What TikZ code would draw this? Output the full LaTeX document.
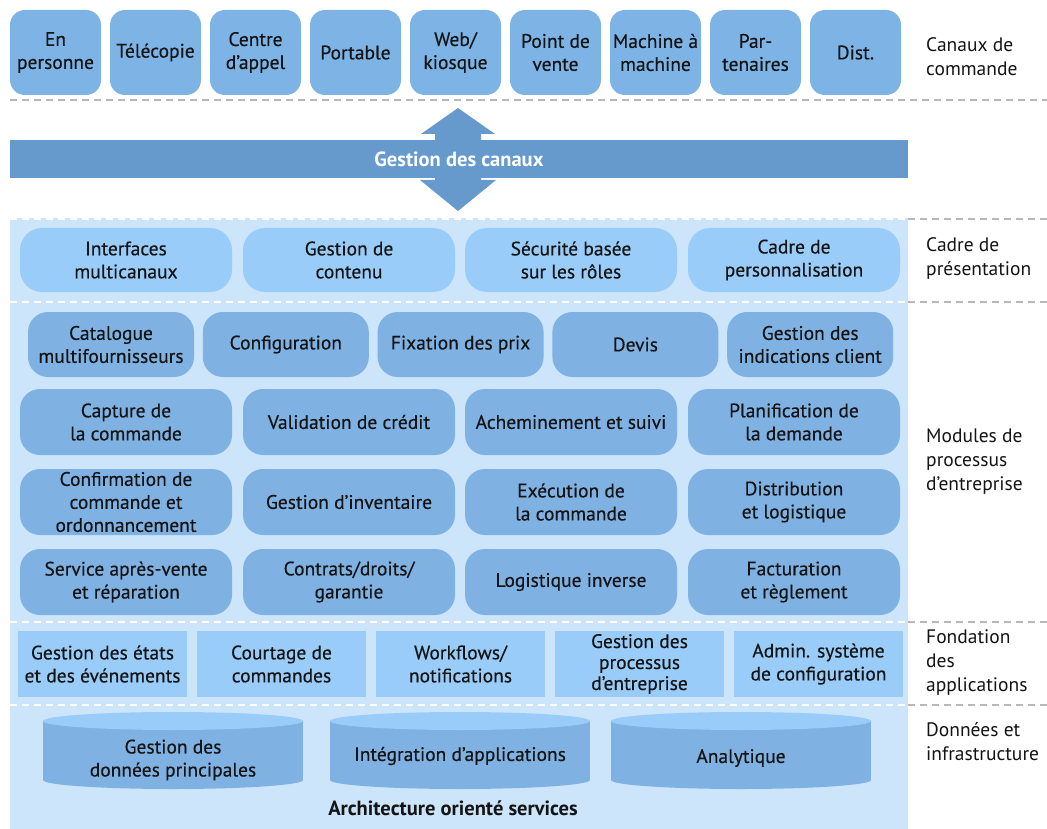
\documentclass[tikz,border=0pt]{standalone}
\usepackage{fontspec}
\setmainfont{PT Sans}
\newfontfamily\boxfont{PT Sans}[FakeBold=0.35]
\definecolor{chanblue}{HTML}{7DB3E5}
\definecolor{barblue}{HTML}{6699CC}
\definecolor{panelblue}{HTML}{CCE5FB}
\definecolor{lightbox}{HTML}{99CCF8}
\definecolor{modblue}{HTML}{7FB1E2}
\definecolor{txt}{HTML}{141414}
\definecolor{dashgray}{HTML}{B8B8B8}
\tikzset{
  every node/.style={font=\boxfont\fontsize{19.5}{23}\selectfont, text=txt, align=center, inner sep=0pt},
  chan/.style={fill=chanblue, rounded corners=15pt, minimum width=91pt, minimum height=85pt},
  pres/.style={fill=lightbox, rounded corners=22pt, minimum width=212pt, minimum height=64pt},
  modA/.style={fill=modblue, rounded corners=20pt, minimum width=166pt, minimum height=65pt},
  modB/.style={fill=modblue, rounded corners=20pt, minimum width=212pt, minimum height=66pt},
  fond/.style={fill=lightbox, minimum width=169pt, minimum height=66pt},
  lab/.style={anchor=west, align=left, font=\fontsize{19.5}{24}\selectfont},
  boldtxt/.style={font=\fontsize{20.5}{24}\selectfont\bfseries},
  sepgray/.style={draw=dashgray, line width=1.5pt, dash pattern=on 7pt off 5pt},
  sepwhite/.style={draw=white, line width=1.5pt, dash pattern=on 7pt off 5pt},
}
\begin{document}
\begin{tikzpicture}[x=1pt,y=-1pt]
\useasboundingbox (0,0) rectangle (1047,829);
% panel
\fill[panelblue] (10,218) rectangle (908,829);
% separators
\draw[sepgray] (10,100) -- (1047,100);
\draw[sepwhite] (10,219) -- (908,219);
\draw[sepgray] (908,219) -- (1047,219);
\draw[sepwhite] (10,302) -- (908,302);
\draw[sepgray] (908,302) -- (1047,302);
\draw[sepwhite] (10,622) -- (908,622);
\draw[sepgray] (908,622) -- (1047,622);
\draw[sepwhite] (10,705) -- (908,705);
\draw[sepgray] (908,705) -- (1047,705);
% channels
\node[chan] (c1) at (55.5,52.5) {En\\personne};
\node[chan] (c2) at (155.5,52.5) {Télécopie};
\node[chan] (c3) at (255.5,52.5) {Centre\\d’appel};
\node[chan] (c4) at (355.5,52.5) {Portable};
\node[chan] (c5) at (455.5,52.5) {Web/\\kiosque};
\node[chan] (c6) at (555.5,52.5) {Point de\\vente};
\node[chan] (c7) at (655.5,52.5) {Machine à\\machine};
\node[chan] (c8) at (755.5,52.5) {Par-\\tenaires};
\node[chan] (c9) at (855.5,52.5) {Dist.};
% double arrow
\fill[barblue] (458,108) -- (495,134) -- (481,134) -- (481,180) -- (496,180) -- (458,211)
  -- (420,180) -- (435,180) -- (435,134) -- (421,134) -- cycle;
\node[fill=barblue, minimum width=898pt, minimum height=38pt, text=white, boldtxt] (canaux) at (459,159) {Gestion des canaux};
% presentation
\node[pres] (p1) at (126,260) {Interfaces\\multicanaux};
\node[pres] (p2) at (349,260) {Gestion de\\contenu};
\node[pres] (p3) at (571,260) {Sécurité basée\\sur les rôles};
\node[pres] (p4) at (794,260) {Cadre de\\personnalisation};
% modules row 1
\node[modA] (m1) at (111,344.5) {Catalogue\\multifournisseurs};
\node[modA] (m2) at (285.8,344.5) {Configuration};
\node[modA] (m3) at (460.6,344.5) {Fixation des prix};
\node[modA] (m4) at (635.4,344.5) {Devis};
\node[modA] (m5) at (810.2,344.5) {Gestion des\\indications client};
% modules row 2
\node[modB] (r21) at (126,422) {Capture de\\la commande};
\node[modB] (r22) at (349,422) {Validation de crédit};
\node[modB] (r23) at (571,422) {Acheminement et suivi};
\node[modB] (r24) at (794,422) {Planification de\\la demande};
% row 3
\node[modB] (r31) at (126,502) {Confirmation de\\commande et\\ordonnancement};
\node[modB] (r32) at (349,502) {Gestion d’inventaire};
\node[modB] (r33) at (571,502) {Exécution de\\la commande};
\node[modB] (r34) at (794,502) {Distribution\\et logistique};
% row 4
\node[modB] (r41) at (126,582) {Service après-vente\\et réparation};
\node[modB] (r42) at (349,582) {Contrats/droits/\\garantie};
\node[modB] (r43) at (571,582) {Logistique inverse};
\node[modB] (r44) at (794,582) {Facturation\\et règlement};
% foundation
\node[fond] (f1) at (102.5,664) {Gestion des états\\et des événements};
\node[fond] (f2) at (281.5,664) {Courtage de\\commandes};
\node[fond] (f3) at (460.5,664) {Workflows/\\notifications};
\node[fond, font=\boxfont\fontsize{19.5}{21}\selectfont] (f4) at (639.5,664) {Gestion des\\processus\\d’entreprise};
\node[fond] (f5) at (818.5,664) {Admin. système\\de configuration};
% cylinders
\foreach \l/\r in {43/303, 330/590, 611/871}{
  \fill[modblue] (\l,721) rectangle (\r,780);
  \fill[modblue] ({(\l+\r)/2},780) ellipse [x radius={(\r-\l)/2}, y radius=9];
  \fill[lightbox] ({(\l+\r)/2},721) ellipse [x radius={(\r-\l)/2}, y radius=9];
}
\node (d1) at (173,760) {Gestion des\\données principales};
\node (d2) at (460,756) {Intégration d’applications};
\node (d3) at (741,758) {Analytique};
\node[boldtxt] (soa) at (453,808) {Architecture orienté services};
% right labels
\node[lab] (l1) at (926,57) {Canaux de\\commande};
\node[lab] (l2) at (926,259) {Cadre de\\présentation};
\node[lab] (l3) at (926,462) {Modules de\\processus\\d’entreprise};
\node[lab] (l4) at (926,663) {Fondation\\des\\applications};
\node[lab] (l5) at (926,742) {Données et\\infrastructure};
\end{tikzpicture}
\end{document}
